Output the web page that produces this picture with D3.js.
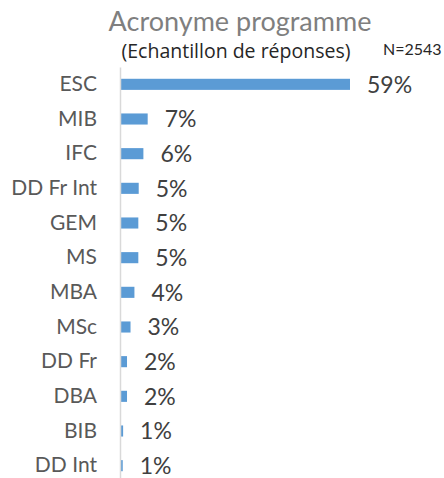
<!DOCTYPE html>
<html><head><meta charset="utf-8">
<script src="https://cdn.jsdelivr.net/npm/d3@7"></script>
<style>html,body{margin:0;padding:0;background:#fff;}svg{display:block;}</style>
</head><body>
<svg id="chart" width="444" height="478"></svg>
<script>
const categories = ["ESC","MIB","IFC","DD Fr Int","GEM","MS","MBA","MSc","DD Fr","DBA","BIB","DD Int"];
const values = [59, 7.1, 6.0, 4.8, 4.7, 4.7, 3.7, 2.7, 1.8, 1.8, 0.8, 0.7];
const title = "Acronyme programme";
const subtitle = "(Echantillon de réponses)";
const note = "N=2543";

const svg = d3.select("#chart");
const font = "Lato, 'Noto Sans', sans-serif";
const font2 = "'Open Sans', 'Noto Sans', sans-serif";

const x = d3.scaleLinear().domain([0, 59]).range([120, 350]);
const y = d3.scaleBand().domain(categories).range([67, 483]).paddingInner(0.68).paddingOuter(0.34);

svg.append("text").attr("x", 240).attr("y", 31).attr("text-anchor", "middle")
  .attr("font-family", font).attr("font-size", 27).attr("fill", "#7f7f7f").text(title);
svg.append("text").attr("x", 236).attr("y", 58).attr("text-anchor", "middle")
  .attr("font-family", font2).attr("font-size", 19.5).attr("fill", "#262626").text(subtitle);
svg.append("text").attr("x", 383).attr("y", 55).attr("text-anchor", "start")
  .attr("font-family", font).attr("font-size", 16).attr("fill", "#262626").text(note);

const data = categories.map((c, i) => ({c, v: values[i]}));

svg.selectAll("rect.bar").data(data).join("rect").attr("class", "bar")
  .attr("x", x(0)).attr("y", d => y(d.c))
  .attr("width", d => x(d.v) - x(0)).attr("height", y.bandwidth())
  .attr("fill", "#5b9bd5");

const yAxis = svg.append("g").attr("transform", `translate(${x(0)},0)`)
  .call(d3.axisLeft(y).tickSize(0).tickPadding(23));
yAxis.select(".domain").attr("stroke", "#d9d9d9").attr("stroke-width", 1.5);
yAxis.selectAll("text").attr("font-family", font).attr("font-size", 21).attr("fill", "#595959");

svg.selectAll("text.val").data(data).join("text").attr("class", "val")
  .attr("x", d => x(d.v) + 17).attr("y", d => y(d.c) + y.bandwidth() / 2)
  .attr("dy", "0.36em").attr("font-family", font).attr("font-size", 23).attr("fill", "#404040")
  .text(d => d3.format(".0f")(d.v) + "%");
</script>
</body></html>
